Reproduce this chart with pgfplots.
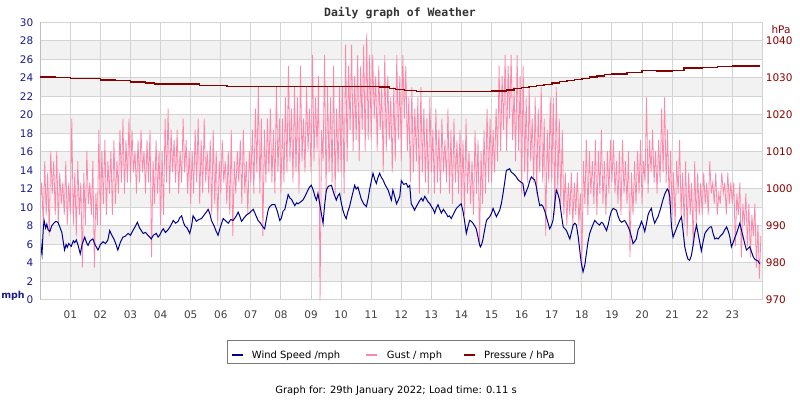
\documentclass[border=0pt]{standalone}
\usepackage{pgfplots}
\pgfplotsset{compat=1.18}
\usepackage{fontspec}
\setmainfont{DejaVu Sans}
\newfontfamily\titlefont{DejaVu Sans Mono}
\definecolor{windblue}{HTML}{000090}
\definecolor{gustpink}{HTML}{FF88AA}
\definecolor{presred}{HTML}{880000}
\definecolor{bandgrey}{HTML}{F2F2F2}
\definecolor{gridgrey}{HTML}{D3D3D3}
\definecolor{ylabblue}{HTML}{1A1A8C}
\definecolor{ylabred}{HTML}{8B0000}
\definecolor{xlabgrey}{HTML}{404040}
\definecolor{legframe}{HTML}{7A7A7A}

\pgfplotstableread{
h mph
0.00 7.2
0.03 5.5
0.06 4.9
0.10 7.6
0.13 8.6
0.18 7.8
0.22 8.2
0.26 7.6
0.32 7.4
0.38 8.0
0.45 8.3
0.52 8.5
0.59 8.4
0.65 7.9
0.72 7.3
0.78 6.0
0.81 5.4
0.86 6.0
0.90 5.7
0.95 6.1
1.03 5.8
1.10 6.4
1.15 6.2
1.20 6.5
1.26 5.9
1.33 5.0
1.40 6.1
1.48 6.8
1.54 6.2
1.59 5.9
1.66 6.4
1.75 6.6
1.82 6.0
1.92 5.4
2.00 6.0
2.09 6.3
2.17 6.1
2.25 6.5
2.31 7.5
2.38 7.0
2.45 6.6
2.52 6.0
2.58 5.4
2.66 6.2
2.75 6.8
2.83 6.9
2.92 7.2
3.00 7.0
3.08 7.5
3.15 7.9
3.23 8.4
3.30 7.8
3.36 7.5
3.42 7.2
3.50 7.3
3.58 7.0
3.64 6.8
3.69 6.6
3.76 7.0
3.86 7.2
3.92 6.8
3.97 7.0
4.03 7.4
4.09 7.7
4.16 7.3
4.25 7.6
4.33 8.0
4.42 8.6
4.50 8.3
4.58 8.5
4.64 8.9
4.70 9.1
4.76 8.4
4.81 8.0
4.88 7.8
4.97 7.2
5.03 8.0
5.08 9.1
5.14 8.8
5.19 8.5
5.27 8.7
5.36 8.8
5.45 9.2
5.52 9.5
5.58 9.8
5.64 9.3
5.69 8.6
5.78 8.0
5.85 7.4
5.91 7.0
5.98 7.8
6.08 8.8
6.15 8.6
6.25 8.3
6.33 8.7
6.41 8.6
6.50 9.0
6.58 9.5
6.64 9.0
6.69 8.5
6.78 8.9
6.86 9.2
6.95 9.4
7.08 9.8
7.16 9.2
7.24 8.6
7.32 8.3
7.40 7.9
7.46 7.7
7.52 8.8
7.58 9.8
7.63 10.1
7.70 10.3
7.80 10.3
7.88 9.6
7.96 8.6
8.01 8.8
8.07 9.6
8.13 9.8
8.20 10.8
8.24 11.4
8.30 11.0
8.35 10.9
8.46 10.2
8.52 10.5
8.57 10.4
8.65 10.6
8.73 10.8
8.80 11.2
8.90 11.9
8.95 12.2
9.01 12.4
9.08 11.8
9.13 11.2
9.18 10.8
9.23 11.5
9.28 10.6
9.34 9.4
9.40 8.3
9.45 10.2
9.51 11.9
9.58 12.3
9.68 12.4
9.75 11.6
9.84 10.8
9.90 11.3
9.95 11.5
10.00 10.6
10.06 9.7
10.12 9.1
10.17 8.8
10.22 9.5
10.28 10.1
10.36 11.2
10.45 12.4
10.50 12.0
10.56 12.2
10.62 11.5
10.67 10.9
10.75 10.4
10.84 10.1
10.90 11.0
10.95 12.0
11.00 12.8
11.06 13.7
11.12 13.0
11.17 12.6
11.22 13.2
11.28 13.7
11.33 13.3
11.39 13.0
11.47 12.4
11.56 11.9
11.62 11.3
11.67 10.8
11.72 11.9
11.78 11.2
11.84 10.4
11.90 10.8
11.95 11.2
12.00 12.9
12.08 12.5
12.17 12.6
12.22 12.2
12.28 12.4
12.33 10.4
12.40 10.0
12.44 9.7
12.50 10.1
12.55 10.4
12.62 10.8
12.67 11.0
12.72 10.7
12.78 11.2
12.84 10.9
12.89 10.6
12.95 10.4
13.00 10.1
13.06 9.8
13.11 9.4
13.16 9.9
13.22 10.3
13.28 9.8
13.33 9.4
13.40 9.8
13.44 9.6
13.50 9.3
13.55 9.0
13.60 9.1
13.66 8.8
13.75 9.4
13.83 9.9
13.92 10.2
13.99 10.4
14.05 9.6
14.10 8.6
14.16 7.2
14.22 8.0
14.27 8.6
14.33 8.5
14.38 8.3
14.44 8.0
14.49 7.7
14.55 6.8
14.60 6.0
14.63 5.75
14.67 6.0
14.71 6.5
14.77 7.6
14.83 8.6
14.88 8.8
14.94 9.0
15.00 9.4
15.05 9.9
15.10 9.5
15.16 9.0
15.22 9.4
15.27 9.7
15.33 10.5
15.38 11.5
15.44 12.8
15.49 14.0
15.55 14.1
15.60 14.2
15.66 13.8
15.71 13.7
15.80 13.4
15.88 13.0
15.95 12.8
16.04 12.6
16.10 11.3
16.16 11.8
16.21 12.2
16.27 12.9
16.32 13.3
16.38 13.1
16.43 13.0
16.49 12.2
16.54 11.2
16.60 10.2
16.66 10.3
16.71 10.1
16.77 9.6
16.82 9.0
16.88 8.3
16.93 7.7
16.98 8.0
17.04 8.6
17.10 10.4
17.15 11.9
17.21 11.4
17.26 10.8
17.32 9.2
17.38 7.9
17.44 7.7
17.49 7.5
17.55 7.0
17.60 6.6
17.66 7.4
17.71 8.1
17.77 8.3
17.82 8.1
17.88 6.8
17.93 5.4
17.98 4.0
18.04 3.05
18.10 3.8
18.15 5.0
18.20 6.2
18.26 7.2
18.35 8.0
18.43 8.6
18.51 8.3
18.59 8.1
18.65 8.4
18.70 8.3
18.76 7.9
18.82 7.5
18.88 8.2
18.93 9.0
18.98 9.6
19.04 9.9
19.10 9.8
19.15 9.7
19.20 9.1
19.26 8.6
19.32 8.4
19.37 8.5
19.42 8.6
19.48 8.3
19.54 7.9
19.59 7.5
19.65 6.8
19.70 6.1
19.75 6.3
19.81 6.6
19.87 7.6
19.92 7.9
19.98 8.5
20.03 8.1
20.09 7.4
20.15 8.3
20.20 9.2
20.25 9.6
20.31 9.9
20.36 9.0
20.42 8.3
20.48 8.7
20.53 9.0
20.60 9.7
20.65 10.3
20.70 10.9
20.76 11.5
20.84 12.0
20.88 11.8
20.92 11.2
20.95 9.6
20.98 7.9
21.03 6.8
21.08 7.2
21.14 7.7
21.20 8.2
21.25 8.6
21.31 9.0
21.36 7.6
21.42 5.75
21.48 4.9
21.53 4.4
21.58 4.3
21.64 4.8
21.70 6.0
21.75 7.2
21.81 8.1
21.86 7.2
21.92 6.2
21.97 5.3
22.03 6.3
22.09 7.2
22.15 7.5
22.20 7.7
22.26 7.9
22.31 7.9
22.36 7.2
22.42 6.6
22.48 6.7
22.53 6.6
22.60 6.9
22.69 7.2
22.75 7.6
22.81 7.9
22.87 7.4
22.92 6.8
22.97 5.75
23.04 6.3
23.09 6.8
23.14 7.2
23.20 7.8
23.25 8.3
23.30 7.6
23.36 6.8
23.42 6.0
23.47 5.4
23.53 5.6
23.58 5.75
23.64 5.2
23.69 4.7
23.75 4.4
23.80 4.3
23.86 4.2
23.91 3.9
}\windtable

\pgfplotstableread{
h mph
0.00 10.4
0.05 12.7
0.10 8.1
0.15 15.0
0.20 9.2
0.25 13.8
0.30 6.9
0.35 16.1
0.40 11.5
0.45 15.0
0.50 9.2
0.55 16.1
0.60 8.1
0.65 13.8
0.70 10.4
0.75 12.7
0.80 9.2
0.85 15.0
0.90 8.1
0.95 12.7
1.00 9.2
1.05 19.6
1.10 8.1
1.15 13.8
1.20 6.9
1.25 15.0
1.30 9.2
1.35 12.7
1.40 3.5
1.45 13.8
1.50 8.1
1.55 16.1
1.60 10.4
1.65 12.7
1.70 9.2
1.75 15.0
1.80 3.5
1.85 11.5
1.90 8.1
1.95 18.4
2.00 8.1
2.05 16.1
2.10 10.4
2.15 17.3
2.20 9.2
2.25 15.0
2.30 11.5
2.35 16.1
2.40 9.2
2.45 17.3
2.50 10.4
2.55 15.0
2.60 11.5
2.65 18.4
2.70 12.7
2.75 19.6
2.80 11.5
2.85 17.3
2.90 12.7
2.95 19.6
3.00 12.7
3.05 18.4
3.10 13.8
3.15 16.1
3.20 11.5
3.25 17.3
3.30 12.7
3.35 18.4
3.40 13.8
3.45 16.1
3.50 11.5
3.55 17.3
3.60 12.7
3.65 18.4
3.70 4.6
3.75 15.0
3.80 10.4
3.85 17.3
3.90 11.5
3.95 16.1
4.00 8.1
4.05 16.1
4.10 9.2
4.15 19.6
4.20 12.7
4.25 20.7
4.30 11.5
4.35 18.4
4.40 13.8
4.45 17.3
4.50 12.7
4.55 18.4
4.60 11.5
4.65 16.1
4.70 12.7
4.75 19.6
4.80 13.8
4.85 17.3
4.90 11.5
4.95 16.1
5.00 10.4
5.05 16.1
5.10 11.5
5.15 18.4
5.20 12.7
5.25 19.6
5.30 10.4
5.35 17.3
5.40 11.5
5.45 19.6
5.50 12.7
5.55 16.1
5.60 11.5
5.65 17.3
5.70 9.2
5.75 18.4
5.80 10.4
5.85 16.1
5.90 8.1
5.95 15.0
6.00 11.5
6.05 17.3
6.10 12.7
6.15 15.0
6.20 10.4
6.25 16.1
6.30 9.2
6.35 18.4
6.40 6.9
6.45 15.0
6.50 11.5
6.55 16.1
6.60 12.7
6.65 17.3
6.70 10.4
6.75 18.4
6.80 11.5
6.85 15.0
6.90 9.2
6.95 16.1
7.00 12.7
7.05 18.4
7.10 11.5
7.15 20.7
7.20 13.8
7.25 23.0
7.30 11.5
7.35 19.6
7.40 6.9
7.45 18.4
7.50 12.7
7.55 19.6
7.60 13.8
7.65 20.7
7.70 12.7
7.75 18.4
7.80 11.5
7.85 23.0
7.90 13.8
7.95 19.6
8.00 11.5
8.05 19.6
8.10 12.7
8.15 21.9
8.20 13.8
8.25 25.3
8.30 15.0
8.35 20.7
8.40 12.7
8.45 23.0
8.50 13.8
8.55 21.9
8.60 11.5
8.65 25.3
8.70 15.0
8.75 19.6
8.80 13.8
8.85 23.0
8.90 16.1
8.95 20.7
9.00 13.8
9.05 26.5
9.10 15.0
9.15 21.9
9.20 16.1
9.25 24.2
9.30 0.0
9.35 18.4
9.40 15.0
9.45 26.5
9.50 11.5
9.55 23.0
9.60 13.8
9.65 21.9
9.70 12.7
9.75 25.3
9.80 11.5
9.85 20.7
9.90 13.8
9.95 23.0
10.00 13.8
10.05 23.0
10.10 11.5
10.15 27.6
10.20 15.0
10.25 25.3
10.30 18.4
10.35 27.6
10.40 16.1
10.45 24.2
10.50 17.3
10.55 26.5
10.60 15.0
10.65 25.3
10.70 18.4
10.75 27.6
10.80 16.1
10.85 28.8
10.90 17.3
10.95 26.5
11.00 17.3
11.05 26.5
11.10 19.6
11.15 24.2
11.20 16.1
11.25 25.3
11.30 18.4
11.35 23.0
11.40 13.8
11.45 26.5
11.50 16.1
11.55 24.2
11.60 17.3
11.65 21.9
11.70 13.8
11.75 23.0
11.80 15.0
11.85 26.5
11.90 17.3
11.95 24.2
12.00 15.0
12.05 26.5
12.10 19.6
12.15 25.3
12.20 16.1
12.25 21.9
12.30 12.7
12.35 23.0
12.40 13.8
12.45 20.7
12.50 15.0
12.55 21.9
12.60 11.5
12.65 23.0
12.70 13.8
12.75 20.7
12.80 12.7
12.85 19.6
12.90 11.5
12.95 21.9
13.00 13.8
13.05 18.4
13.10 11.5
13.15 20.7
13.20 12.7
13.25 18.4
13.30 11.5
13.35 19.6
13.40 13.8
13.45 17.3
13.50 12.7
13.55 20.7
13.60 11.5
13.65 18.4
13.70 10.4
13.75 19.6
13.80 12.7
13.85 17.3
13.90 11.5
13.95 18.4
14.00 10.4
14.05 17.3
14.10 9.2
14.15 19.6
14.20 11.5
14.25 16.1
14.30 10.4
14.35 15.0
14.40 9.2
14.45 18.4
14.50 11.5
14.55 17.3
14.60 5.8
14.65 16.1
14.70 10.4
14.75 18.4
14.80 11.5
14.85 20.7
14.90 12.7
14.95 19.6
15.00 12.7
15.05 18.4
15.10 13.8
15.15 20.7
15.20 15.0
15.25 25.3
15.30 16.1
15.35 24.2
15.40 18.4
15.45 26.5
15.50 16.1
15.55 25.3
15.60 19.6
15.65 26.5
15.70 17.3
15.75 23.0
15.80 15.0
15.85 26.5
15.90 16.1
15.95 24.2
16.00 11.5
16.05 25.3
16.10 13.8
16.15 21.9
16.20 12.7
16.25 23.0
16.30 15.0
16.35 19.6
16.40 12.7
16.45 21.9
16.50 11.5
16.55 20.7
16.60 13.8
16.65 23.0
16.70 12.7
16.75 19.6
16.80 6.9
16.85 18.4
16.90 12.7
16.95 21.9
17.00 12.7
17.05 21.9
17.10 9.2
17.15 23.0
17.20 11.5
17.25 19.6
17.30 10.4
17.35 18.4
17.40 9.2
17.45 13.8
17.50 8.1
17.55 12.7
17.60 9.2
17.65 13.8
17.70 8.1
17.75 12.7
17.80 9.2
17.85 13.8
17.90 8.1
17.95 11.5
18.00 3.5
18.05 15.0
18.10 10.4
18.15 17.3
18.20 9.2
18.25 16.1
18.30 11.5
18.35 15.0
18.40 10.4
18.45 17.3
18.50 9.2
18.55 16.1
18.60 11.5
18.65 18.4
18.70 10.4
18.75 15.0
18.80 9.2
18.85 16.1
18.90 11.5
18.95 17.3
19.00 12.7
19.05 17.3
19.10 11.5
19.15 15.0
19.20 10.4
19.25 16.1
19.30 9.2
19.35 17.3
19.40 11.5
19.45 15.0
19.50 10.4
19.55 16.1
19.60 4.6
19.65 13.8
19.70 9.2
19.75 15.0
19.80 10.4
19.85 16.1
19.90 11.5
19.95 17.3
20.00 10.4
20.05 15.0
20.10 12.7
20.15 21.9
20.20 11.5
20.25 17.3
20.30 13.8
20.35 18.4
20.40 12.7
20.45 16.1
20.50 11.5
20.55 17.3
20.60 12.7
20.65 20.7
20.70 13.8
20.75 21.9
20.80 12.7
20.85 18.4
20.90 10.4
20.95 16.1
21.00 9.2
21.05 13.8
21.10 8.1
21.15 15.0
21.20 11.5
21.25 17.3
21.30 9.2
21.35 13.8
21.40 8.1
21.45 15.0
21.50 6.9
21.55 13.8
21.60 9.2
21.65 12.7
21.70 5.8
21.75 15.0
21.80 8.1
21.85 13.8
21.90 9.2
21.95 12.7
22.00 9.2
22.05 13.8
22.10 10.4
22.15 12.7
22.20 9.2
22.25 15.0
22.30 11.5
22.35 12.7
22.40 10.4
22.45 13.8
22.50 9.2
22.55 11.5
22.60 10.4
22.65 13.8
22.70 11.5
22.75 12.7
22.80 9.2
22.85 13.8
22.90 10.4
22.95 12.7
23.00 10.4
23.05 12.7
23.10 5.8
23.15 11.5
23.20 9.2
23.25 12.7
23.30 4.6
23.35 10.4
23.40 8.1
23.45 11.5
23.50 5.8
23.55 10.4
23.60 4.6
23.65 9.2
23.70 6.9
23.75 10.4
23.80 3.5
23.85 8.1
23.90 2.3
23.95 6.9
}\gusttable

\pgfplotstableread{
h hpa
0.0 1030.3
0.5 1030.2
1.0 1029.9
1.5 1029.8
2.0 1029.4
2.5 1029.3
3.0 1028.9
3.5 1028.6
3.8 1028.4
5.0 1028.35
5.3 1028.0
6.2 1027.7
11.0 1027.7
11.3 1027.5
11.6 1027.2
11.8 1026.9
12.1 1026.6
12.5 1026.3
14.5 1026.3
15.0 1026.5
15.5 1026.8
15.75 1027.1
16.0 1027.4
16.25 1027.7
16.5 1028.0
16.75 1028.3
17.0 1028.6
17.25 1029.0
17.5 1029.3
17.75 1029.6
18.0 1029.9
18.25 1030.3
18.5 1030.6
18.75 1030.9
19.0 1031.1
19.5 1031.5
20.0 1032.0
20.5 1031.9
21.0 1032.0
21.4 1032.7
22.0 1032.9
22.5 1033.1
23.0 1033.2
23.9 1033.4
}\prestable

\begin{document}
\begin{tikzpicture}
\pgfplotsset{set layers}
\path (0,0) rectangle (800bp,400bp);
\begin{axis}[
  at={(40.2bp,100bp)}, anchor=south west,
  width=722.2bp, height=277.5bp, scale only axis,
  xmin=0, xmax=24, ymin=0, ymax=30,
  xtick={1,...,23},
  xticklabels={01,02,03,04,05,06,07,08,09,10,11,12,13,14,15,16,17,18,19,20,21,22,23},
  ytick={0,2,...,30},
  xmajorgrids, ymajorgrids,
  major grid style={gridgrey, line width=1bp},
  axis line style={gridgrey, line width=1bp},
  major tick length=0pt, tick style={draw=none},
  /pgf/number format/assume math mode=true,
  yticklabel style={ylabblue, font=\fontsize{10.5}{12}\selectfont, xshift=-3.5bp},
  xticklabel style={xlabgrey, font=\fontsize{10.5}{12}\selectfont, yshift=-7.5bp},
]
\begin{pgfonlayer}{axis background}
\fill[bandgrey] (axis cs:0,2) rectangle (axis cs:24,4);
\fill[bandgrey] (axis cs:0,6) rectangle (axis cs:24,8);
\fill[bandgrey] (axis cs:0,10) rectangle (axis cs:24,12);
\fill[bandgrey] (axis cs:0,14) rectangle (axis cs:24,16);
\fill[bandgrey] (axis cs:0,18) rectangle (axis cs:24,20);
\fill[bandgrey] (axis cs:0,22) rectangle (axis cs:24,24);
\fill[bandgrey] (axis cs:0,26) rectangle (axis cs:24,28);
\end{pgfonlayer}
\addplot[gustpink, line width=0.8bp, mark=none] table[x=h, y=mph] {\gusttable};
\addplot[windblue, line width=1bp, mark=none] table[x=h, y=mph] {\windtable};
\draw[gridgrey!90!black, line width=2bp] (axis cs:0,0) -- (axis cs:0,30);
\end{axis}
\begin{axis}[
  at={(40.2bp,100bp)}, anchor=south west,
  width=722.2bp, height=277.5bp, scale only axis,
  xmin=0, xmax=24, ymin=970, ymax=1045,
  axis y line*=right, hide x axis,
  y axis line style={draw=none},
  ytick={970,980,...,1040},
  major tick length=0pt, tick style={draw=none},
  /pgf/number format/assume math mode=true,
  /pgf/number format/set thousands separator={},
  yticklabel style={ylabred, font=\fontsize{10.5}{12}\selectfont},
]
\addplot[presred, line width=1.5bp, mark=none, const plot] table[x=h, y=hpa] {\prestable};
\end{axis}
\node[anchor=base, inner sep=0pt, font=\titlefont\bfseries\fontsize{11.5}{13}\selectfont, text=black!80] at (400bp,383bp) {Daily graph of Weather};
\node[inner sep=0pt, font=\bfseries\fontsize{9.5}{11}\selectfont, text=ylabblue] at (13bp,104bp) {mph};
\node[inner sep=0pt, font=\fontsize{10.5}{12}\selectfont, text=ylabred] at (781bp,370bp) {hPa};
\draw[legframe, line width=1bp] (227.5bp,36bp) rectangle (574.5bp,59.5bp);
\draw[windblue, line width=2bp] (231.7bp,45bp) -- (243bp,45bp);
\node[anchor=base west, inner sep=0pt, font=\fontsize{10}{12}\selectfont] at (251.7bp,41.7bp) {Wind Speed /mph};
\draw[gustpink, line width=2bp] (365.7bp,45bp) -- (376.7bp,45bp);
\node[anchor=base west, inner sep=0pt, font=\fontsize{10}{12}\selectfont] at (386.7bp,41.7bp) {Gust / mph};
\draw[presred, line width=2bp] (464bp,45bp) -- (475bp,45bp);
\node[anchor=base west, inner sep=0pt, font=\fontsize{10}{12}\selectfont] at (484bp,41.7bp) {Pressure / hPa};
\node[anchor=base, inner sep=0pt, font=\fontsize{10}{12}\selectfont] at (396bp,6.7bp) {Graph for: 29th January 2022; Load time: 0.11 s};
\end{tikzpicture}
\end{document}
